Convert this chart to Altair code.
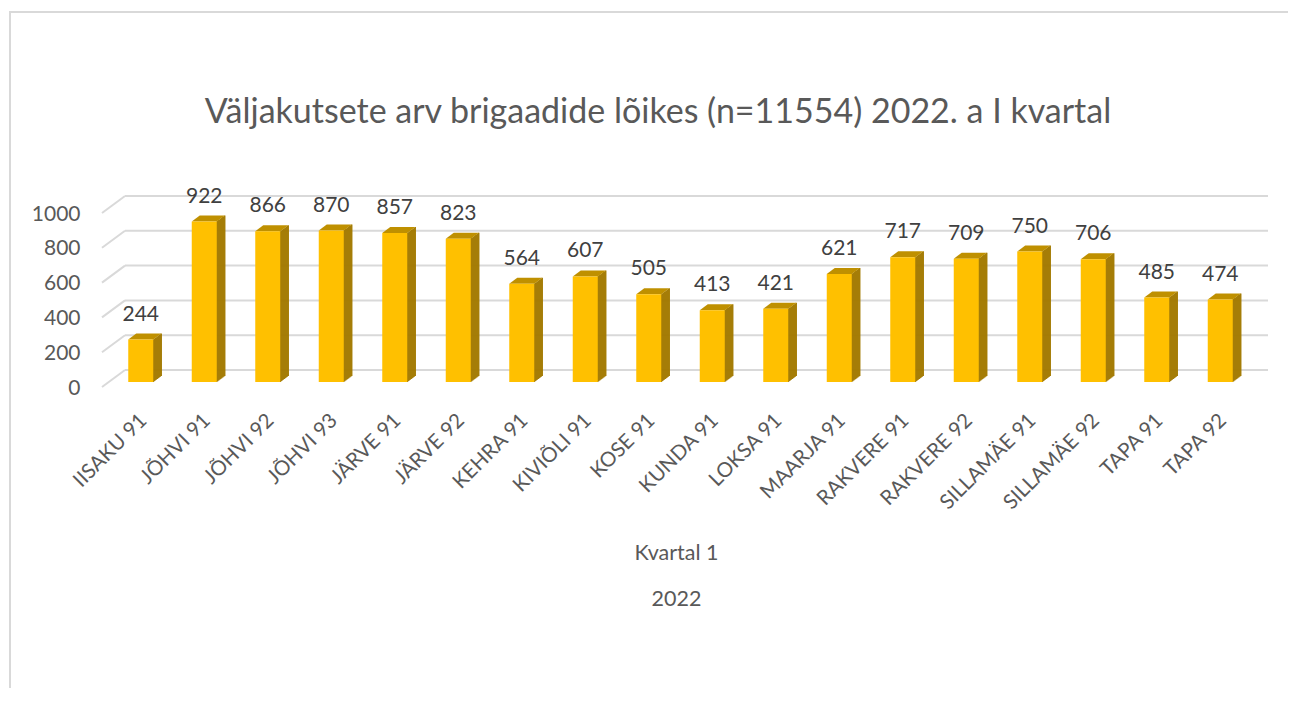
import altair as alt
import pandas as pd

categories = ["IISAKU 91", "JÕHVI 91", "JÕHVI 92", "JÕHVI 93", "JÄRVE 91", "JÄRVE 92",
              "KEHRA 91", "KIVIÕLI 91", "KOSE 91", "KUNDA 91", "LOKSA 91", "MAARJA 91",
              "RAKVERE 91", "RAKVERE 92", "SILLAMÄE 91", "SILLAMÄE 92", "TAPA 91", "TAPA 92"]
values = [244, 922, 866, 870, 857, 823, 564, 607, 505, 413, 421, 621, 717, 709, 750, 706, 485, 474]
y_ticks = [0, 200, 400, 600, 800, 1000]
title_text = "Väljakutsete arv brigaadide lõikes (n=11554) 2022. a I kvartal"

FRONT = "#FFC000"
TOP = "#BF9000"
SIDE = "#A37A00"
GRID = "#D9D9D9"
FONT = "Lato"

df = pd.DataFrame({"cat": categories, "value": values})
grid_df = pd.DataFrame({"v": y_ticks})
one_df = pd.DataFrame({"k": [0]})

W, H = 1143, 174
yscale = alt.Scale(domain=[0, 1000], nice=False)
xscale = alt.Scale(paddingInner=0, paddingOuter=0)

XAX = alt.Axis(labelAngle=-45, labelAlign="right", labelBaseline="middle",
               labelPadding=35, labelOffset=3, ticks=False, tickSize=0,
               domain=False, grid=False, labelFont=FONT, labelFontSize=20.5,
               labelColor="#595959",
               title=["Kvartal 1", "2022"], titleFont=FONT, titleFontSize=21.5,
               titleFontWeight="normal", titleColor="#595959",
               titleLineHeight=46, titleBaseline="alphabetic",
               titleX=567, titleY=177, titleAlign="center")
YAX = alt.Axis(values=y_ticks, format="d", grid=False, domain=False, ticks=False,
               tickSize=0, labelPadding=29, labelOffset=6, labelFont=FONT,
               labelFontSize=21, labelColor="#595959", title=None)

X = alt.X("cat:N", sort=categories, scale=xscale, axis=XAX)
Y = alt.Y("value:Q", scale=yscale, axis=YAX)

base = alt.Chart(df)

frame = alt.Chart(one_df).mark_rect(fill=None, stroke=GRID, strokeWidth=2).encode(
    x=alt.value(-99), x2=alt.value(1400), y=alt.value(-196), y2=alt.value(900)
)

title = alt.Chart(one_df).mark_text(
    text=title_text, font=FONT, fontSize=34, color="#595959",
    align="center", baseline="middle"
).encode(x=alt.value(549), y=alt.value(-95))

grid = alt.Chart(grid_df).mark_rule(color=GRID, strokeWidth=2, yOffset=-12).encode(
    y=alt.Y("v:Q", scale=yscale, axis=YAX),
    x=alt.value(16), x2=alt.value(W + 16)
)

diag = alt.Chart(grid_df).mark_rule(color=GRID, strokeWidth=2, yOffset=5, y2Offset=-12).encode(
    y=alt.Y("v:Q", scale=yscale, axis=YAX),
    y2=alt.Y2("v:Q"),
    x=alt.value(-7), x2=alt.value(16)
)

side_layers = []
n = 9
for i in range(n):
    off = -6.0 * i / (n - 1)
    side_layers.append(
        base.mark_rule(color=SIDE, strokeWidth=1.4, xOffset=12.5 + i,
                       yOffset=off, y2Offset=off).encode(
            x=X, y=Y, y2=alt.datum(0)
        )
    )

top_path = "M -0.625 0 L 0.625 0 L 1.025 -0.3 L -0.225 -0.3 Z"
top = base.mark_point(shape=top_path, size=1600, filled=True, fill=TOP,
                      opacity=1, strokeWidth=0).encode(x=X, y=Y)

front = base.mark_bar(size=25, color=FRONT).encode(x=X, y=Y)

labels = base.mark_text(dy=-25, font=FONT, fontSize=21, color="#404040",
                        baseline="middle").encode(x=X, y=Y, text="value:Q")

chart = alt.layer(frame, title, grid, diag, *side_layers, top, front, labels).properties(
    width=W, height=H,
    autosize=alt.AutoSizeParams(type="none"),
    padding={"left": 101, "top": 200, "right": 36, "bottom": 306},
).configure_view(stroke=None)

chart.save("out.html", embed_options={"renderer": "svg", "actions": False})
